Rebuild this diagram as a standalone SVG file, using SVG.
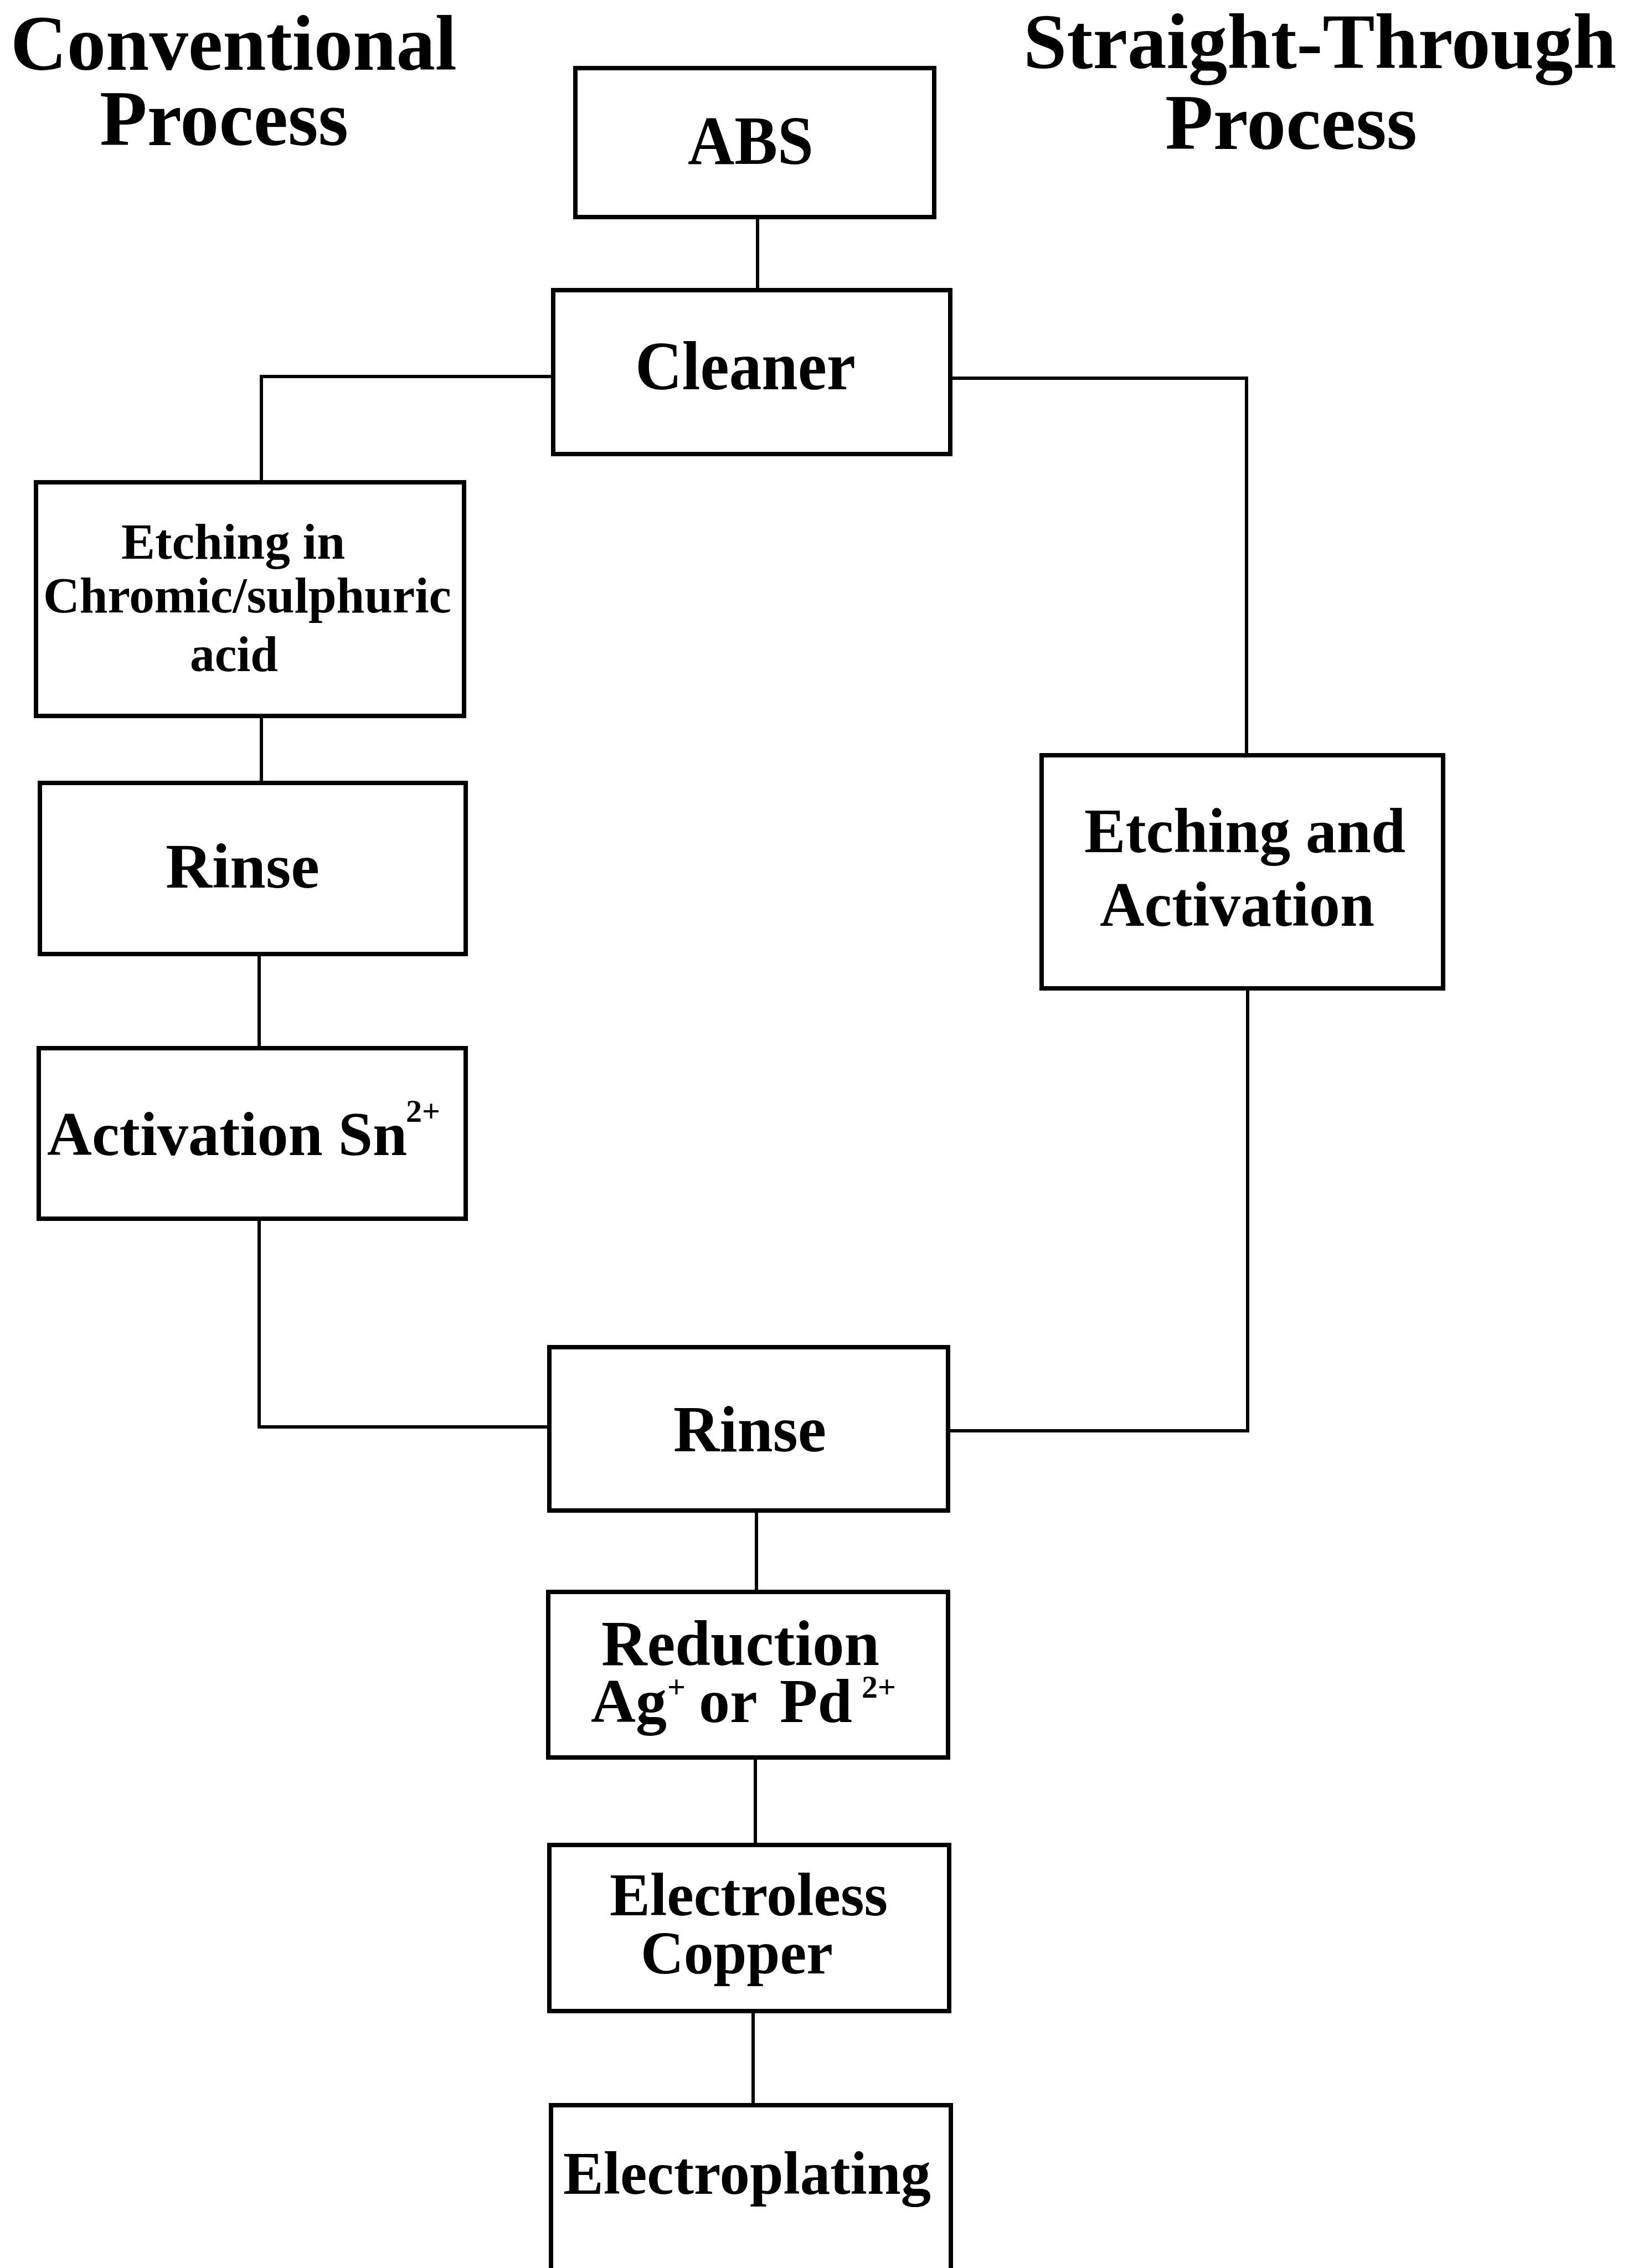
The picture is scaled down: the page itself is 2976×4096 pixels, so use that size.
<svg xmlns="http://www.w3.org/2000/svg" width="2976" height="4096" viewBox="0 0 2976 4096">
<style>
.box{fill:#fff;stroke:#000;stroke-width:8}
.t{font-family:"Liberation Serif","Times New Roman",serif;font-weight:bold;fill:#000}
.title{font-size:142px}
.c{stroke:#000;stroke-width:6;fill:none}
</style>
<rect width="2976" height="4096" fill="#fff"/>
<g id="titles">
<text class="t title" x="19" y="126" textLength="806" lengthAdjust="spacingAndGlyphs">Conventional</text>
<text class="t title" x="180" y="262" textLength="449" lengthAdjust="spacingAndGlyphs">Process</text>
<text class="t title" x="1848" y="123" textLength="1071" lengthAdjust="spacingAndGlyphs">Straight-Through</text>
<text class="t title" x="2104" y="269" textLength="455" lengthAdjust="spacingAndGlyphs">Process</text>
</g>
<g id="connectors">
<line class="c" x1="1368" y1="392" x2="1368" y2="524"/>
<polyline class="c" points="999,680 472,680 472,871"/>
<polyline class="c" points="1716,683 2251,683 2251,1364"/>
<line class="c" x1="472" y1="1293" x2="472" y2="1414"/>
<line class="c" x1="468" y1="1723" x2="468" y2="1893"/>
<polyline class="c" points="468,2201 468,2577 992,2577"/>
<polyline class="c" points="2253,1785 2253,2584 1712,2584"/>
<line class="c" x1="1366" y1="2728" x2="1366" y2="2875"/>
<line class="c" x1="1364" y1="3174" x2="1364" y2="3332"/>
<line class="c" x1="1360" y1="3632" x2="1360" y2="3802"/>
</g>
<g id="abs">
<rect class="box" x="1039" y="123" width="648" height="269"/>
<text class="t" font-size="124" x="1242" y="296" textLength="227" lengthAdjust="spacingAndGlyphs">ABS</text>
</g>
<g id="cleaner">
<rect class="box" x="999" y="524" width="717" height="296"/>
<text class="t" font-size="124" x="1147" y="703" textLength="398" lengthAdjust="spacingAndGlyphs">Cleaner</text>
</g>
<g id="etching-chromic">
<rect class="box" x="65" y="871" width="773" height="422"/>
<text class="t" font-size="91" x="219" y="1009" textLength="404" lengthAdjust="spacingAndGlyphs">Etching in</text>
<text class="t" font-size="91" x="78" y="1106" textLength="737" lengthAdjust="spacingAndGlyphs">Chromic/sulphuric</text>
<text class="t" font-size="91" x="343" y="1212" textLength="159" lengthAdjust="spacingAndGlyphs">acid</text>
</g>
<g id="rinse-left">
<rect class="box" x="72" y="1414" width="769" height="309"/>
<text class="t" font-size="114" x="299" y="1603" textLength="278" lengthAdjust="spacingAndGlyphs">Rinse</text>
</g>
<g id="activation-sn">
<rect class="box" x="70" y="1893" width="771" height="308"/>
<text class="t" font-size="112" x="85" y="2086">Activation Sn<tspan font-size="58" x="733" y="2026">2+</tspan></text>
</g>
<g id="etching-activation">
<rect class="box" x="1881" y="1364" width="725" height="421"/>
<text class="t" font-size="115" x="1958" y="1539" textLength="580" lengthAdjust="spacingAndGlyphs">Etching and</text>
<text class="t" font-size="115" x="1986" y="1672" textLength="496" lengthAdjust="spacingAndGlyphs">Activation</text>
</g>
<g id="rinse-center">
<rect class="box" x="992" y="2433" width="720" height="295"/>
<text class="t" font-size="118" x="1216" y="2621" textLength="276" lengthAdjust="spacingAndGlyphs">Rinse</text>
</g>
<g id="reduction">
<rect class="box" x="990" y="2875" width="722" height="299"/>
<text class="t" font-size="116" x="1086" y="3007" textLength="502" lengthAdjust="spacingAndGlyphs">Reduction</text>
<text class="t" font-size="112" x="1067" y="3110">Ag<tspan font-size="58" x="1205" y="3066">+</tspan><tspan x="1262" y="3110">or</tspan><tspan x="1408" y="3110">Pd</tspan><tspan font-size="58" x="1556" y="3066">2+</tspan></text>
</g>
<g id="electroless-copper">
<rect class="box" x="992" y="3332" width="722" height="300"/>
<text class="t" font-size="110" x="1101" y="3459" textLength="502" lengthAdjust="spacingAndGlyphs">Electroless</text>
<text class="t" font-size="110" x="1157" y="3564" textLength="347" lengthAdjust="spacingAndGlyphs">Copper</text>
</g>
<g id="electroplating">
<rect class="box" x="995" y="3802" width="722" height="400"/>
<text class="t" font-size="110" x="1017" y="3962" textLength="664" lengthAdjust="spacingAndGlyphs">Electroplating</text>
</g>
</svg>
